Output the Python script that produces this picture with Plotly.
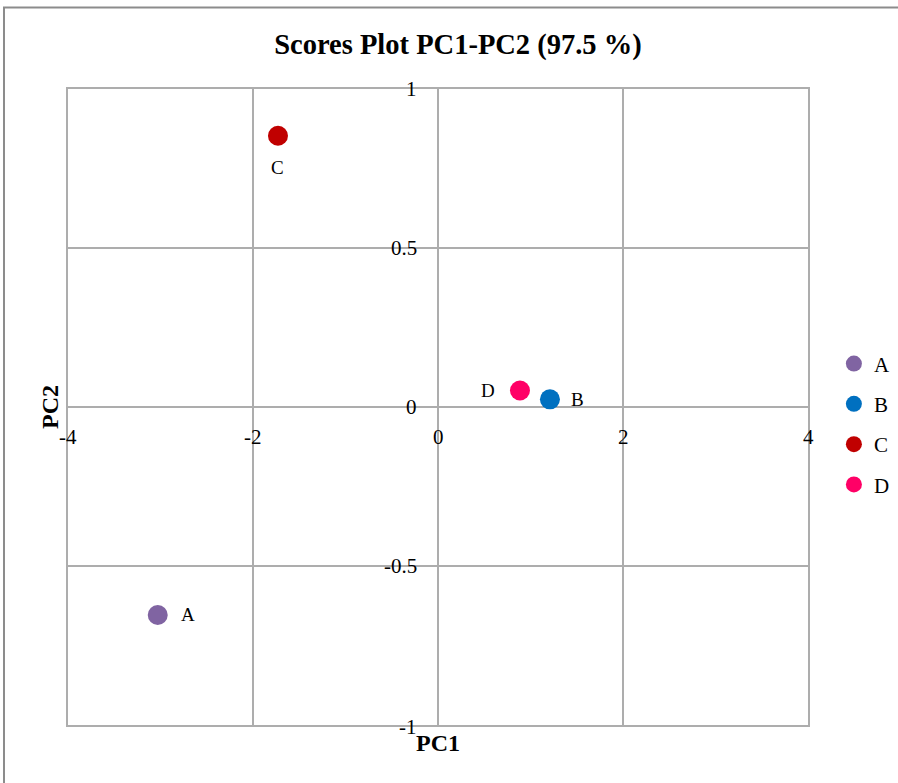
import plotly.graph_objects as go

# PCA scores (PC1, PC2) for each sample
samples = ["A", "B", "C", "D"]
pc1 = [-3.03, 1.21, -1.73, 0.886]
pc2 = [-0.654, 0.024, 0.853, 0.052]
colors = ["#8064A2", "#0070C0", "#C00000", "#FF0066"]

# label offsets (pixels) relative to each marker
label_dx = [30, 28, 0, -32]
label_dy = [0, 0, -32, 0]

x_ticks = [-4, -2, 0, 2, 4]
x_tick_text = ["-4", "-2", "0", "2", "4"]
y_ticks = [-1, -0.5, 0, 0.5, 1]
y_tick_text = ["-1", "-0.5", "0", "0.5", "1"]

FONT = "Liberation Serif"
GRID = "#ADADAD"

fig = go.Figure()
for name, x, y, c in zip(samples, pc1, pc2, colors):
    fig.add_trace(go.Scatter(
        x=[x], y=[y], mode="markers", name=name, legendgroup=name,
        marker=dict(size=20, color=c),
        cliponaxis=False,
    ))

annotations = []
# sample labels next to each point
for name, x, y, dx, dy in zip(samples, pc1, pc2, label_dx, label_dy):
    annotations.append(dict(x=x, y=y, xref="x", yref="y", text=name, showarrow=False,
                            xanchor="center", yanchor="middle", xshift=dx, yshift=dy,
                            font=dict(family=FONT, size=19, color="#000000")))

# tick labels sit next to the zero lines
for v, t in zip(x_ticks, x_tick_text):
    annotations.append(dict(x=v, y=0, xref="x", yref="y", text=t, showarrow=False,
                            xanchor="center", yanchor="middle", yshift=-30,
                            font=dict(family=FONT, size=21, color="#000000")))
for v, t in zip(y_ticks, y_tick_text):
    annotations.append(dict(x=0, y=v, xref="x", yref="y", text=t, showarrow=False,
                            xanchor="right", yanchor="middle", xshift=-19,
                            yshift=-2 if v == -1 else 0,
                            font=dict(family=FONT, size=21, color="#000000")))
annotations.append(dict(x=0, y=-1, xref="x", yref="y", text="<b>PC1</b>", showarrow=False,
                        xanchor="center", yanchor="middle", yshift=-18,
                        font=dict(family=FONT, size=24, color="#000000")))
annotations.append(dict(x=-4, y=0, xref="x", yref="y", text="<b>PC2</b>", showarrow=False,
                        textangle=-90, xanchor="center", yanchor="middle", xshift=-18,
                        font=dict(family=FONT, size=24, color="#000000")))

axis_common = dict(showgrid=True, gridcolor=GRID, gridwidth=1.5, zeroline=True,
                   zerolinecolor=GRID, zerolinewidth=1.5, showline=True, linecolor=GRID,
                   linewidth=1.5, mirror=True, ticks="", showticklabels=False)

fig.update_layout(
    width=898, height=783,
    margin=dict(l=68, r=90, t=89, b=58, autoexpand=False),
    paper_bgcolor="white", plot_bgcolor="white",
    title=dict(text="<b>Scores Plot PC1-PC2 (97.5 %)</b>", x=0.51, xanchor="center",
               y=0.944, yanchor="middle",
               font=dict(family=FONT, size=28.5, color="#000000")),
    xaxis=dict(range=[-4, 4], tickvals=x_ticks, **axis_common),
    yaxis=dict(range=[-1, 1], tickvals=y_ticks, **axis_common),
    legend=dict(x=1.035, xanchor="left", y=0.6, yanchor="top", tracegroupgap=10,
                font=dict(family=FONT, size=21, color="#000000"),
                bgcolor="rgba(0,0,0,0)", itemclick=False),
    annotations=annotations,
    shapes=[dict(type="rect", xref="paper", yref="paper",
                 x0=-0.0865, x1=1.3, y0=-0.3, y1=1.128,
                 line=dict(color="#8C8C8C", width=2), layer="below")],
    showlegend=True,
)

fig.write_html("out.html")
